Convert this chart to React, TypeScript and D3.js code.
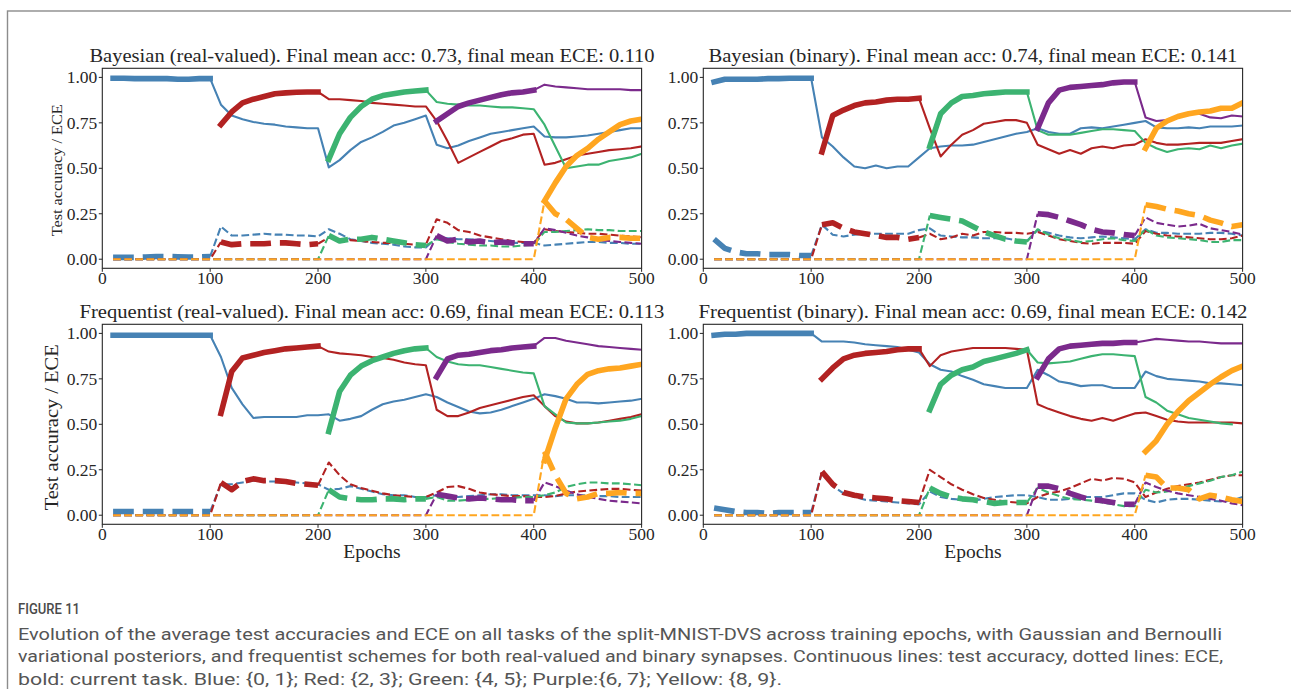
import React from 'react';
import * as d3 from 'd3';

const EPOCHS = [10, 20, 30, 40, 50, 60, 70, 80, 90, 100, 110, 120, 130, 140, 150, 160, 170, 180, 190, 200,
  210, 220, 230, 240, 250, 260, 270, 280, 290, 300, 310, 320, 330, 340, 350, 360, 370, 380, 390, 400,
  410, 420, 430, 440, 450, 460, 470, 480, 490, 500];
const X_TICKS = [0, 100, 200, 300, 400, 500];
const Y_TICKS = [0, 0.25, 0.5, 0.75, 1.0];
const TASK_COLORS = ['#4682b4', '#b22222', '#3cb371', '#7b2a8c', '#ffa620'];
const TASK_STARTS = [10, 110, 210, 310, 410];
const TASK_ENDS = [100, 200, 300, 400, 500];

// ---------- Bayesian (real-valued) ----------
const BR_ACC_0 = [0.995, 0.995, 0.993, 0.993, 0.993, 0.993, 0.99, 0.99, 0.993, 0.993,
  0.85, 0.79, 0.77, 0.755, 0.745, 0.74, 0.73, 0.725, 0.72, 0.72,
  0.505, 0.545, 0.60, 0.645, 0.67, 0.70, 0.735, 0.75, 0.77, 0.79,
  0.63, 0.61, 0.625, 0.65, 0.67, 0.69, 0.70, 0.71, 0.72, 0.73,
  0.675, 0.67, 0.67, 0.675, 0.68, 0.69, 0.70, 0.71, 0.72, 0.72];
const BR_ACC_1 = [0.74, 0.81, 0.86, 0.88, 0.895, 0.91, 0.915, 0.918, 0.92, 0.92,
  0.88, 0.88, 0.875, 0.87, 0.86, 0.855, 0.85, 0.845, 0.84, 0.84,
  0.76, 0.65, 0.53, 0.56, 0.59, 0.62, 0.65, 0.665, 0.685, 0.69,
  0.52, 0.53, 0.55, 0.57, 0.58, 0.59, 0.60, 0.605, 0.61, 0.62];
const BR_ACC_2 = [0.55, 0.69, 0.78, 0.84, 0.88, 0.90, 0.91, 0.92, 0.925, 0.93,
  0.865, 0.855, 0.85, 0.845, 0.845, 0.84, 0.835, 0.835, 0.83, 0.825,
  0.74, 0.62, 0.50, 0.51, 0.52, 0.52, 0.54, 0.55, 0.56, 0.58];
const BR_ACC_3 = [0.76, 0.80, 0.84, 0.86, 0.875, 0.89, 0.905, 0.915, 0.92, 0.93,
  0.96, 0.95, 0.945, 0.94, 0.935, 0.935, 0.935, 0.935, 0.93, 0.93];
const BR_ACC_4 = [0.32, 0.42, 0.51, 0.57, 0.61, 0.66, 0.70, 0.74, 0.76, 0.77];
const BR_ECE_0 = [0.01, 0.01, 0.01, 0.012, 0.015, 0.015, 0.013, 0.012, 0.012, 0.015,
  0.18, 0.13, 0.13, 0.135, 0.14, 0.135, 0.135, 0.13, 0.13, 0.125,
  0.165, 0.14, 0.11, 0.10, 0.09, 0.085, 0.08, 0.07, 0.065, 0.065,
  0.12, 0.115, 0.11, 0.11, 0.105, 0.10, 0.095, 0.09, 0.09, 0.09,
  0.075, 0.08, 0.085, 0.09, 0.095, 0.095, 0.09, 0.09, 0.085, 0.085];
const BR_ECE_1 = [0, 0, 0, 0, 0, 0, 0, 0, 0, 0,
  0.095, 0.08, 0.085, 0.085, 0.085, 0.09, 0.09, 0.085, 0.08, 0.085,
  0.12, 0.11, 0.105, 0.10, 0.095, 0.09, 0.09, 0.085, 0.08, 0.08,
  0.22, 0.20, 0.16, 0.15, 0.13, 0.12, 0.11, 0.10, 0.095, 0.09,
  0.165, 0.155, 0.15, 0.145, 0.14, 0.14, 0.135, 0.13, 0.125, 0.12];
const BR_ECE_2 = [0, 0, 0, 0, 0, 0, 0, 0, 0, 0, 0, 0, 0, 0, 0, 0, 0, 0, 0, 0,
  0.13, 0.10, 0.11, 0.11, 0.12, 0.11, 0.10, 0.09, 0.08, 0.075,
  0.11, 0.095, 0.085, 0.08, 0.075, 0.075, 0.07, 0.07, 0.075, 0.08,
  0.15, 0.15, 0.155, 0.16, 0.165, 0.16, 0.16, 0.155, 0.155, 0.155];
const BR_ECE_3 = [0, 0, 0, 0, 0, 0, 0, 0, 0, 0, 0, 0, 0, 0, 0, 0, 0, 0, 0, 0,
  0, 0, 0, 0, 0, 0, 0, 0, 0, 0,
  0.13, 0.10, 0.11, 0.095, 0.10, 0.09, 0.095, 0.09, 0.085, 0.085,
  0.17, 0.16, 0.145, 0.13, 0.12, 0.105, 0.10, 0.095, 0.09, 0.085];
const BR_ECE_4 = [0, 0, 0, 0, 0, 0, 0, 0, 0, 0, 0, 0, 0, 0, 0, 0, 0, 0, 0, 0,
  0, 0, 0, 0, 0, 0, 0, 0, 0, 0, 0, 0, 0, 0, 0, 0, 0, 0, 0, 0,
  0.32, 0.25, 0.22, 0.17, 0.12, 0.11, 0.12, 0.12, 0.115, 0.115];

// ---------- Bayesian (binary) ----------
const BB_ACC_0 = [0.975, 0.99, 0.99, 0.99, 0.99, 0.993, 0.993, 0.995, 0.995, 0.995,
  0.67, 0.62, 0.56, 0.51, 0.50, 0.515, 0.50, 0.51, 0.51, 0.56,
  0.61, 0.62, 0.625, 0.625, 0.63, 0.645, 0.66, 0.675, 0.69, 0.70,
  0.72, 0.70, 0.69, 0.69, 0.72, 0.725, 0.72, 0.73, 0.74, 0.75,
  0.76, 0.725, 0.72, 0.72, 0.725, 0.72, 0.73, 0.73, 0.73, 0.735];
const BB_ACC_1 = [0.59, 0.79, 0.82, 0.845, 0.86, 0.865, 0.875, 0.88, 0.88, 0.885,
  0.72, 0.565, 0.63, 0.685, 0.71, 0.745, 0.755, 0.765, 0.765, 0.75,
  0.63, 0.605, 0.58, 0.60, 0.58, 0.61, 0.62, 0.61, 0.625, 0.63,
  0.66, 0.64, 0.63, 0.63, 0.635, 0.64, 0.64, 0.64, 0.65, 0.66];
const BB_ACC_2 = [0.62, 0.80, 0.86, 0.895, 0.90, 0.91, 0.915, 0.92, 0.92, 0.92,
  0.71, 0.685, 0.685, 0.685, 0.695, 0.705, 0.715, 0.715, 0.71, 0.705,
  0.64, 0.61, 0.59, 0.605, 0.61, 0.605, 0.625, 0.61, 0.625, 0.635];
const BB_ACC_3 = [0.72, 0.86, 0.93, 0.945, 0.95, 0.955, 0.96, 0.97, 0.975, 0.975,
  0.78, 0.76, 0.765, 0.78, 0.80, 0.80, 0.78, 0.775, 0.79, 0.785];
const BB_ACC_4 = [0.61, 0.72, 0.76, 0.785, 0.80, 0.81, 0.815, 0.83, 0.83, 0.86];
const BB_ECE_0 = [0.11, 0.06, 0.04, 0.03, 0.03, 0.025, 0.025, 0.025, 0.02, 0.02,
  0.19, 0.135, 0.125, 0.135, 0.14, 0.14, 0.14, 0.14, 0.14, 0.16,
  0.17, 0.13, 0.125, 0.12, 0.12, 0.115, 0.115, 0.115, 0.105, 0.10,
  0.16, 0.145, 0.13, 0.12, 0.115, 0.12, 0.125, 0.12, 0.115, 0.11,
  0.165, 0.145, 0.145, 0.14, 0.14, 0.14, 0.145, 0.145, 0.14, 0.13];
const BB_ECE_1 = [0, 0, 0, 0, 0, 0, 0, 0, 0, 0,
  0.19, 0.20, 0.17, 0.15, 0.14, 0.13, 0.12, 0.12, 0.11, 0.12,
  0.14, 0.11, 0.12, 0.14, 0.13, 0.15, 0.15, 0.145, 0.145, 0.14,
  0.15, 0.13, 0.11, 0.10, 0.09, 0.085, 0.09, 0.09, 0.09, 0.085,
  0.155, 0.14, 0.13, 0.125, 0.12, 0.115, 0.11, 0.11, 0.115, 0.13];
const BB_ECE_2 = [0, 0, 0, 0, 0, 0, 0, 0, 0, 0, 0, 0, 0, 0, 0, 0, 0, 0, 0, 0,
  0.24, 0.23, 0.22, 0.21, 0.18, 0.15, 0.13, 0.11, 0.10, 0.095,
  0.165, 0.135, 0.115, 0.105, 0.095, 0.10, 0.11, 0.115, 0.105, 0.10,
  0.165, 0.13, 0.12, 0.115, 0.11, 0.105, 0.095, 0.095, 0.105, 0.105];
const BB_ECE_3 = [0, 0, 0, 0, 0, 0, 0, 0, 0, 0, 0, 0, 0, 0, 0, 0, 0, 0, 0, 0,
  0, 0, 0, 0, 0, 0, 0, 0, 0, 0,
  0.25, 0.245, 0.23, 0.21, 0.19, 0.165, 0.15, 0.145, 0.135, 0.13,
  0.23, 0.20, 0.19, 0.18, 0.185, 0.195, 0.17, 0.16, 0.15, 0.135];
const BB_ECE_4 = [0, 0, 0, 0, 0, 0, 0, 0, 0, 0, 0, 0, 0, 0, 0, 0, 0, 0, 0, 0,
  0, 0, 0, 0, 0, 0, 0, 0, 0, 0, 0, 0, 0, 0, 0, 0, 0, 0, 0, 0,
  0.30, 0.29, 0.275, 0.265, 0.25, 0.24, 0.215, 0.20, 0.18, 0.19];

// ---------- Frequentist (real-valued) ----------
const FR_ACC_0 = [0.99, 0.99, 0.99, 0.99, 0.99, 0.99, 0.99, 0.99, 0.99, 0.99,
  0.87, 0.70, 0.61, 0.535, 0.54, 0.54, 0.54, 0.54, 0.55, 0.55,
  0.555, 0.52, 0.53, 0.545, 0.58, 0.61, 0.625, 0.635, 0.65, 0.665,
  0.65, 0.62, 0.595, 0.57, 0.56, 0.565, 0.58, 0.60, 0.62, 0.64,
  0.665, 0.655, 0.64, 0.62, 0.62, 0.615, 0.62, 0.625, 0.63, 0.64];
const FR_ACC_1 = [0.56, 0.79, 0.865, 0.88, 0.895, 0.905, 0.915, 0.92, 0.925, 0.93,
  0.90, 0.89, 0.885, 0.88, 0.87, 0.865, 0.855, 0.84, 0.83, 0.825,
  0.58, 0.545, 0.545, 0.565, 0.59, 0.605, 0.62, 0.635, 0.65, 0.66,
  0.60, 0.545, 0.515, 0.505, 0.505, 0.51, 0.52, 0.53, 0.54, 0.555];
const FR_ACC_2 = [0.46, 0.68, 0.77, 0.82, 0.85, 0.87, 0.89, 0.905, 0.915, 0.92,
  0.87, 0.845, 0.83, 0.825, 0.825, 0.815, 0.805, 0.795, 0.785, 0.78,
  0.60, 0.555, 0.51, 0.505, 0.505, 0.51, 0.515, 0.52, 0.53, 0.545];
const FR_ACC_3 = [0.76, 0.86, 0.88, 0.885, 0.895, 0.905, 0.91, 0.92, 0.925, 0.93,
  0.975, 0.975, 0.96, 0.95, 0.94, 0.93, 0.925, 0.92, 0.915, 0.91];
const FR_ACC_4 = [0.30, 0.48, 0.64, 0.72, 0.775, 0.795, 0.805, 0.81, 0.82, 0.83];
const FR_ECE_0 = [0.02, 0.02, 0.02, 0.02, 0.02, 0.02, 0.02, 0.02, 0.02, 0.02,
  0.17, 0.17, 0.18, 0.19, 0.185, 0.185, 0.185, 0.18, 0.175, 0.17,
  0.14, 0.145, 0.16, 0.145, 0.13, 0.115, 0.11, 0.11, 0.10, 0.10,
  0.11, 0.10, 0.10, 0.105, 0.11, 0.115, 0.115, 0.11, 0.11, 0.11,
  0.11, 0.105, 0.11, 0.11, 0.11, 0.105, 0.105, 0.10, 0.10, 0.10];
const FR_ECE_1 = [0, 0, 0, 0, 0, 0, 0, 0, 0, 0,
  0.18, 0.14, 0.185, 0.20, 0.19, 0.19, 0.185, 0.175, 0.17, 0.165,
  0.29, 0.22, 0.17, 0.15, 0.135, 0.12, 0.11, 0.105, 0.10, 0.10,
  0.125, 0.155, 0.16, 0.145, 0.125, 0.115, 0.11, 0.105, 0.105, 0.10,
  0.10, 0.105, 0.12, 0.13, 0.135, 0.14, 0.145, 0.145, 0.14, 0.135];
const FR_ECE_2 = [0, 0, 0, 0, 0, 0, 0, 0, 0, 0, 0, 0, 0, 0, 0, 0, 0, 0, 0, 0,
  0.14, 0.10, 0.09, 0.085, 0.085, 0.09, 0.09, 0.085, 0.09, 0.09,
  0.10, 0.08, 0.08, 0.085, 0.09, 0.09, 0.095, 0.095, 0.10, 0.10,
  0.11, 0.125, 0.155, 0.17, 0.18, 0.18, 0.175, 0.175, 0.17, 0.165];
const FR_ECE_3 = [0, 0, 0, 0, 0, 0, 0, 0, 0, 0, 0, 0, 0, 0, 0, 0, 0, 0, 0, 0,
  0, 0, 0, 0, 0, 0, 0, 0, 0, 0,
  0.115, 0.105, 0.095, 0.09, 0.095, 0.09, 0.085, 0.085, 0.08, 0.08,
  0.18, 0.16, 0.135, 0.115, 0.10, 0.09, 0.08, 0.075, 0.07, 0.065];
const FR_ECE_4 = [0, 0, 0, 0, 0, 0, 0, 0, 0, 0, 0, 0, 0, 0, 0, 0, 0, 0, 0, 0,
  0, 0, 0, 0, 0, 0, 0, 0, 0, 0, 0, 0, 0, 0, 0, 0, 0, 0, 0, 0,
  0.35, 0.22, 0.12, 0.09, 0.10, 0.12, 0.12, 0.125, 0.12, 0.12];

// ---------- Frequentist (binary) ----------
const FB_ACC_0 = [0.99, 0.995, 0.995, 1.0, 1.0, 1.0, 1.0, 1.0, 1.0, 1.0,
  0.955, 0.955, 0.955, 0.95, 0.94, 0.935, 0.93, 0.925, 0.91, 0.895,
  0.83, 0.80, 0.79, 0.765, 0.745, 0.72, 0.71, 0.70, 0.70, 0.70,
  0.80, 0.77, 0.735, 0.725, 0.71, 0.715, 0.715, 0.70, 0.70, 0.70,
  0.79, 0.765, 0.75, 0.745, 0.74, 0.735, 0.725, 0.725, 0.72, 0.715];
const FB_ACC_1 = [0.75, 0.81, 0.86, 0.88, 0.89, 0.895, 0.90, 0.91, 0.915, 0.915,
  0.82, 0.88, 0.90, 0.91, 0.92, 0.92, 0.92, 0.92, 0.915, 0.91,
  0.61, 0.585, 0.565, 0.545, 0.53, 0.52, 0.535, 0.52, 0.54, 0.56,
  0.565, 0.545, 0.525, 0.515, 0.51, 0.51, 0.51, 0.51, 0.51, 0.505];
const FB_ACC_2 = [0.58, 0.72, 0.77, 0.80, 0.815, 0.845, 0.86, 0.875, 0.89, 0.91,
  0.84, 0.835, 0.84, 0.845, 0.86, 0.875, 0.885, 0.885, 0.88, 0.875,
  0.65, 0.62, 0.575, 0.555, 0.535, 0.525, 0.515, 0.505, 0.50];
const FB_ACC_3 = [0.76, 0.86, 0.915, 0.93, 0.935, 0.94, 0.945, 0.945, 0.95, 0.95,
  0.96, 0.97, 0.965, 0.96, 0.955, 0.955, 0.95, 0.945, 0.945, 0.945];
const FB_ACC_4 = [0.35, 0.41, 0.50, 0.57, 0.63, 0.675, 0.72, 0.76, 0.795, 0.82];
const FB_ECE_0 = [0.04, 0.03, 0.02, 0.015, 0.015, 0.01, 0.015, 0.015, 0.015, 0.015,
  0.24, 0.16, 0.12, 0.10, 0.085, 0.08, 0.075, 0.07, 0.065, 0.06,
  0.13, 0.10, 0.09, 0.085, 0.08, 0.09, 0.10, 0.105, 0.11, 0.11,
  0.10, 0.085, 0.085, 0.09, 0.10, 0.10, 0.10, 0.11, 0.12, 0.12,
  0.085, 0.07, 0.085, 0.09, 0.09, 0.085, 0.08, 0.075, 0.08, 0.10];
const FB_ECE_1 = [0, 0, 0, 0, 0, 0, 0, 0, 0, 0,
  0.24, 0.17, 0.125, 0.11, 0.10, 0.095, 0.09, 0.08, 0.075, 0.07,
  0.25, 0.21, 0.17, 0.14, 0.115, 0.095, 0.085, 0.075, 0.07, 0.065,
  0.10, 0.12, 0.13, 0.15, 0.175, 0.20, 0.19, 0.205, 0.20, 0.18,
  0.10, 0.125, 0.145, 0.16, 0.17, 0.18, 0.195, 0.21, 0.22, 0.22];
const FB_ECE_2 = [0, 0, 0, 0, 0, 0, 0, 0, 0, 0, 0, 0, 0, 0, 0, 0, 0, 0, 0, 0,
  0.15, 0.12, 0.10, 0.09, 0.085, 0.075, 0.065, 0.07, 0.07, 0.07,
  0.15, 0.125, 0.105, 0.09, 0.085, 0.08, 0.07, 0.06, 0.05, 0.05,
  0.14, 0.125, 0.13, 0.145, 0.16, 0.175, 0.19, 0.21, 0.22, 0.24];
const FB_ECE_3 = [0, 0, 0, 0, 0, 0, 0, 0, 0, 0, 0, 0, 0, 0, 0, 0, 0, 0, 0, 0,
  0, 0, 0, 0, 0, 0, 0, 0, 0, 0,
  0.16, 0.16, 0.145, 0.12, 0.10, 0.085, 0.08, 0.07, 0.06, 0.06,
  0.18, 0.155, 0.135, 0.12, 0.11, 0.10, 0.09, 0.08, 0.065, 0.055];
const FB_ECE_4 = [0, 0, 0, 0, 0, 0, 0, 0, 0, 0, 0, 0, 0, 0, 0, 0, 0, 0, 0, 0,
  0, 0, 0, 0, 0, 0, 0, 0, 0, 0, 0, 0, 0, 0, 0, 0, 0, 0, 0, 0,
  0.22, 0.21, 0.15, 0.15, 0.14, 0.09, 0.11, 0.10, 0.085, 0.075];

const TITLES = [
  'Bayesian (real-valued). Final mean acc: 0.73, final mean ECE: 0.110',
  'Bayesian (binary). Final mean acc: 0.74, final mean ECE: 0.141',
  'Frequentist (real-valued). Final mean acc: 0.69, final mean ECE: 0.113',
  'Frequentist (binary). Final mean acc: 0.69, final mean ECE: 0.142',
];
const Y_LABEL = 'Test accuracy / ECE';
const X_LABEL = 'Epochs';
const CAPTION_HEAD = 'FIGURE 11';
const CAPTION_LINES = [
  'Evolution of the average test accuracies and ECE on all tasks of the split-MNIST-DVS across training epochs, with Gaussian and Bernoulli',
  'variational posteriors, and frequentist schemes for both real-valued and binary synapses. Continuous lines: test accuracy, dotted lines: ECE,',
  'bold: current task. Blue: {0, 1}; Red: {2, 3}; Green: {4, 5}; Purple:{6, 7}; Yellow: {8, 9}.',
];

const PANELS = [
  { title: TITLES[0], acc: [BR_ACC_0, BR_ACC_1, BR_ACC_2, BR_ACC_3, BR_ACC_4], ece: [BR_ECE_0, BR_ECE_1, BR_ECE_2, BR_ECE_3, BR_ECE_4] },
  { title: TITLES[1], acc: [BB_ACC_0, BB_ACC_1, BB_ACC_2, BB_ACC_3, BB_ACC_4], ece: [BB_ECE_0, BB_ECE_1, BB_ECE_2, BB_ECE_3, BB_ECE_4] },
  { title: TITLES[2], acc: [FR_ACC_0, FR_ACC_1, FR_ACC_2, FR_ACC_3, FR_ACC_4], ece: [FR_ECE_0, FR_ECE_1, FR_ECE_2, FR_ECE_3, FR_ECE_4] },
  { title: TITLES[3], acc: [FB_ACC_0, FB_ACC_1, FB_ACC_2, FB_ACC_3, FB_ACC_4], ece: [FB_ECE_0, FB_ECE_1, FB_ECE_2, FB_ECE_3, FB_ECE_4] },
];

// layout
const W = 1291;
const H = 689;
const AX_LEFTS = [102.3, 703.3];
const AX_TOPS = [68.3, 324.3];
const AX_W = 539.3;
const AX_H = 200;
const TITLE_LENGTHS = [565, 529, 585, 549];
const SERIF = '"Liberation Serif", "DejaVu Serif", serif';
const SANS = 'Roboto, "Open Sans", sans-serif';
const THIN = 2.1;
const BOLD = 5.6;

type Pt = [number, number];

function Panel({ idx }: { idx: number }) {
  const p = PANELS[idx];
  const col = idx % 2;
  const row = Math.floor(idx / 2);
  const left = AX_LEFTS[col];
  const top = AX_TOPS[row];
  const x = d3.scaleLinear().domain([0, 500]).range([left, left + AX_W]);
  const y = d3.scaleLinear().domain([-0.05, 1.05]).range([top + AX_H, top]);
  const line = d3.line<Pt>().x(d => x(d[0])).y(d => y(d[1]));

  const paths: React.ReactNode[] = [];
  p.acc.forEach((accVals, t) => {
    const color = TASK_COLORS[t];
    const start = TASK_STARTS[t];
    const end = TASK_ENDS[t];
    const accPts: Pt[] = accVals.map((v, i) => [start + 10 * i, v]);
    const ecePts: Pt[] = p.ece[t].map((v, i) => [EPOCHS[i], v]);
    const segs: { pts: Pt[]; bold: boolean; dashed: boolean }[] = [
      { pts: ecePts.filter(d => d[0] <= start), bold: false, dashed: true },
      { pts: ecePts.filter(d => d[0] >= end), bold: false, dashed: true },
      { pts: accPts.filter(d => d[0] >= end), bold: false, dashed: false },
      { pts: ecePts.filter(d => d[0] >= start && d[0] <= end), bold: true, dashed: true },
      { pts: accPts.filter(d => d[0] <= end), bold: true, dashed: false },
    ];
    segs.forEach((s, k) => {
      if (s.pts.length < 2) return;
      const lw = s.bold ? BOLD : THIN;
      paths.push(
        <path
          key={`${t}-${k}`}
          d={line(s.pts) || ''}
          fill="none"
          stroke={color}
          strokeWidth={lw}
          strokeLinejoin="round"
          strokeLinecap={s.dashed ? 'butt' : 'square'}
          strokeDasharray={s.dashed ? `${(3.7 * lw).toFixed(2)} ${(1.6 * lw).toFixed(2)}` : undefined}
        />
      );
    });
  });

  const tickFont = 17.5;
  return (
    <g>
      <defs>
        <clipPath id={`clip${idx}`}>
          <rect x={left} y={top} width={AX_W} height={AX_H} />
        </clipPath>
      </defs>
      <g clipPath={`url(#clip${idx})`}>{paths}</g>
      <rect x={left} y={top} width={AX_W} height={AX_H} fill="none" stroke="#262626" strokeWidth={1.1} />
      {X_TICKS.map(v => (
        <g key={`x${v}`}>
          <line x1={x(v)} x2={x(v)} y1={top + AX_H} y2={top + AX_H + 3.5} stroke="#262626" strokeWidth={1} />
          <text x={x(v)} y={top + AX_H + 15.5} textAnchor="middle" fontFamily={SERIF} fontSize={tickFont} fill="#262626">{v}</text>
        </g>
      ))}
      {Y_TICKS.map(v => (
        <g key={`y${v}`}>
          <line x1={left - 3.5} x2={left} y1={y(v)} y2={y(v)} stroke="#262626" strokeWidth={1} />
          <text x={left - 5} y={y(v) + 5.8} textAnchor="end" fontFamily={SERIF} fontSize={tickFont} fill="#262626">{d3.format('.2f')(v)}</text>
        </g>
      ))}
      <text x={left + AX_W / 2} y={top - 6} textAnchor="middle" fontFamily={SERIF} fontSize={19.5}
        textLength={TITLE_LENGTHS[idx]} lengthAdjust="spacingAndGlyphs" fill="#262626">{p.title}</text>
      {col === 0 && row === 0 && (
        <text transform={`translate(62,${top + AX_H / 2 + 2}) rotate(-90)`} textAnchor="middle" fontFamily={SERIF}
          fontSize={15} textLength={132} lengthAdjust="spacingAndGlyphs" fill="#262626">{Y_LABEL}</text>
      )}
      {col === 0 && row === 1 && (
        <text transform={`translate(58,${top + AX_H / 2 + 3}) rotate(-90)`} textAnchor="middle" fontFamily={SERIF}
          fontSize={19} textLength={166} lengthAdjust="spacingAndGlyphs" fill="#262626">{Y_LABEL}</text>
      )}
      {row === 1 && (
        <text x={left + AX_W / 2} y={558} textAnchor="middle" fontFamily={SERIF} fontSize={19.5} fill="#262626">{X_LABEL}</text>
      )}
    </g>
  );
}

export default function App() {
  return (
    <svg width={W} height={H} style={{ position: 'absolute', left: 0, top: 0, display: 'block', background: '#fff' }}>
      <rect x={0} y={0} width={W} height={H} fill="#fff" />
      <rect x={7.5} y={11} width={W + 20} height={H + 20} fill="none" stroke="#8c8c8c" strokeWidth={1.4} />
      {PANELS.map((_, i) => <Panel key={i} idx={i} />)}
      <text x={18} y={614} fontFamily={SANS} fontSize={14.5} fontWeight={500} fill="#4a4a4a" textLength={62} lengthAdjust="spacingAndGlyphs">{CAPTION_HEAD}</text>
      {CAPTION_LINES.map((l, i) => (
        <text key={i} x={18} y={640 + 22.3 * i} fontFamily={SANS} fontSize={16} fill="#555"
          textLength={[1204, 1205, 764][i]} lengthAdjust="spacingAndGlyphs">{l}</text>
      ))}
    </svg>
  );
}
